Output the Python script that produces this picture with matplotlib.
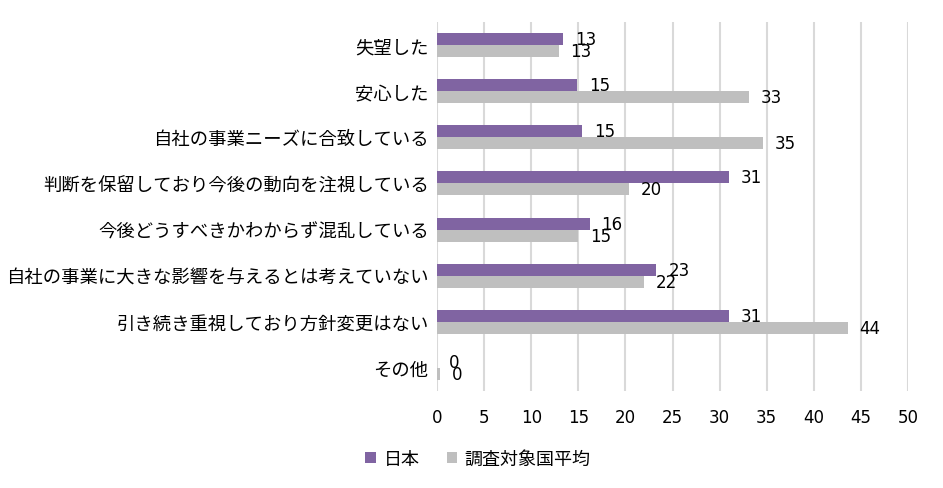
import matplotlib
matplotlib.use("Agg")
import matplotlib.pyplot as plt
import numpy as np

plt.rcParams['font.family'] = ['Noto Sans CJK JP', 'DejaVu Sans']

categories = ["失望した", "安心した", "自社の事業ニーズに合致している",
              "判断を保留しており今後の動向を注視している",
              "今後どうすべきかわからず混乱している",
              "自社の事業に大きな影響を与えるとは考えていない",
              "引き続き重視しており方針変更はない", "その他"]
japan = [13.4, 14.9, 15.4, 31.0, 16.2, 23.3, 31.0, 0.0]
average = [12.9, 33.1, 34.6, 20.4, 15.0, 22.0, 43.6, 0.3]
series_names = ["日本", "調査対象国平均"]
colors = ["#8064A2", "#BFBFBF"]
xticks = [0, 5, 10, 15, 20, 25, 30, 35, 40, 45, 50]

fig = plt.figure(figsize=(9.43, 4.89), dpi=100)
ax = fig.add_axes([437/943, 1-392/489, (908-437)/943, (392-23)/489])

y = np.arange(len(categories))
h = 0.26
b1 = ax.barh(y - h/2, japan, height=h, color=colors[0], label=series_names[0], zorder=3)
b2 = ax.barh(y + h/2, average, height=h, color=colors[1], label=series_names[1], zorder=3)

for bars, vals in ((b1, japan), (b2, average)):
    for bar, v in zip(bars, vals):
        ax.annotate(f"{v:.0f}", xy=(bar.get_width(), bar.get_y() + bar.get_height()/2),
                    xytext=(12, 0), textcoords="offset pixels",
                    ha="left", va="center", fontsize=12, family="DejaVu Sans",
                    color="#000000", zorder=5)

ax.set_xlim(0, 50)
ax.set_ylim(len(categories) - 0.5, -0.5)
ax.set_xticks(xticks)
ax.set_xticklabels([str(t) for t in xticks], fontsize=12, family="DejaVu Sans")
ax.set_yticks(y)
ax.set_yticklabels(categories, fontsize=13.2)
ax.tick_params(axis='both', length=0)
ax.tick_params(axis='x', pad=12)
ax.tick_params(axis='y', pad=6)
for s in ax.spines.values():
    s.set_visible(False)
ax.xaxis.grid(True, color="#D9D9D9", linewidth=1.5, zorder=0)
ax.set_axisbelow(True)

fig.legend(handles=[b1, b2], labels=series_names, loc="center", bbox_to_anchor=(478/943, 1-460/489),
           ncol=2, frameon=False, fontsize=13, handlelength=0.6, handleheight=0.6,
           columnspacing=1.5, handletextpad=0.4)

fig.savefig("out.png", dpi=100)
